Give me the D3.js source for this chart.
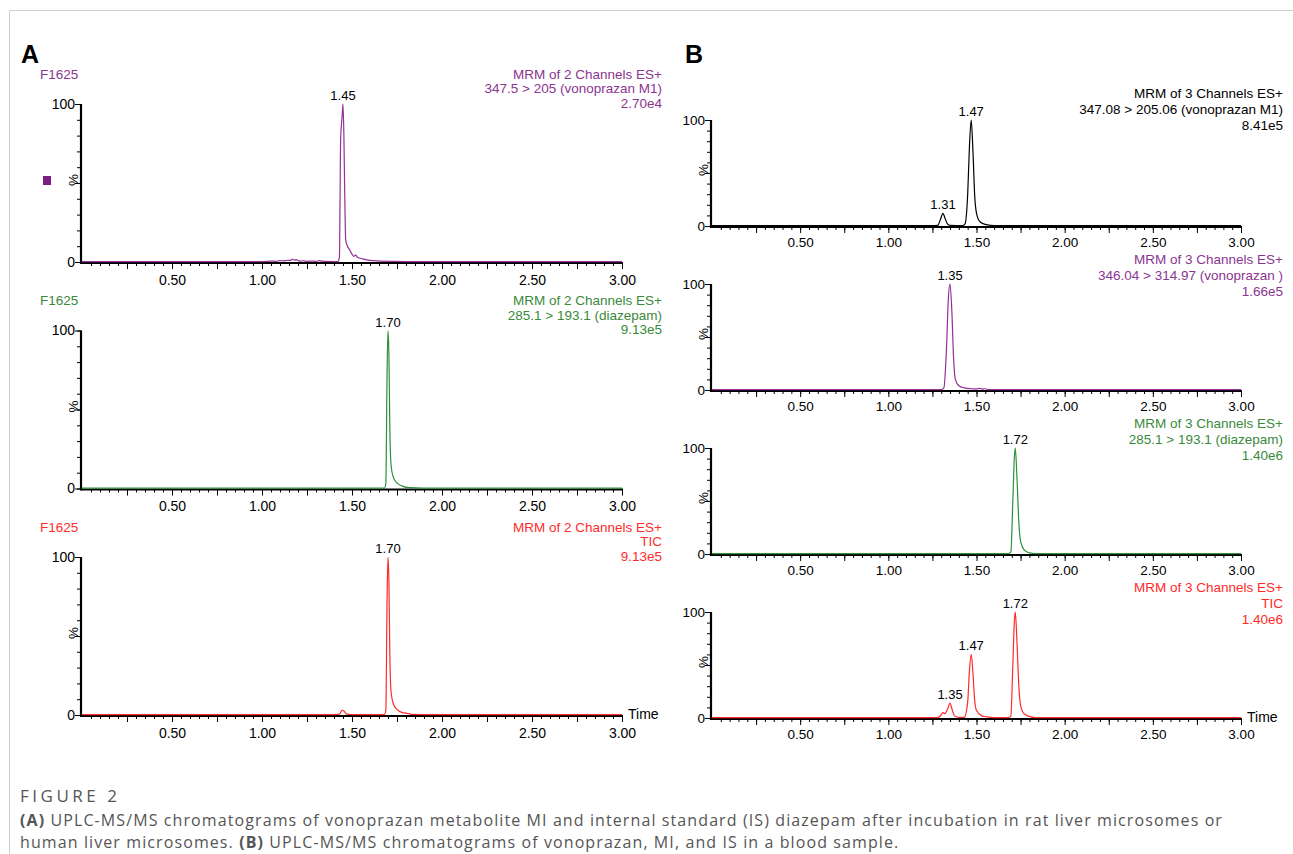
<!DOCTYPE html>
<html lang="en">
<head>
<meta charset="utf-8">
<title>Figure 2 chromatograms</title>
<script src="https://cdnjs.cloudflare.com/ajax/libs/d3/7.8.5/d3.min.js"></script>
<style>
  body { margin: 0; background: #fff; }
  svg { display: block; }
  text { font-family: "Liberation Sans", Arial, sans-serif; }
  .cap { font-family: "Open Sans", "Noto Sans", sans-serif; fill: #555; }
</style>
</head>
<body>
<script>
// retention times (min) and relative intensity (%) for each trace
var timesA1  = [0, 0.5, 1.0, 1.05, 1.08, 1.10, 1.12, 1.14, 1.16, 1.17, 1.18, 1.19, 1.21, 1.23, 1.25, 1.28, 1.30, 1.32, 1.33, 1.35, 1.40, 1.42, 1.43, 1.437, 1.445, 1.45, 1.455, 1.46, 1.465, 1.475, 1.485, 1.50, 1.51, 1.52, 1.53, 1.56, 1.60, 1.65, 1.80, 3.0];
var valuesA1 = [0.3, 0.3, 0.3, 0.6, 0.4, 0.9, 0.7, 1.1, 1.0, 1.8, 1.2, 1.5, 0.5, 0.8, 0.4, 0.6, 0.4, 0.9, 0.5, 0.4, 0.3, 0.3, 3, 78, 92, 100, 80, 40, 14, 10, 8, 5, 3.5, 4.5, 3, 2, 1, 0.6, 0.3, 0.3];

var timesA2  = [0, 1.5, 1.68, 1.688, 1.695, 1.70, 1.705, 1.71, 1.715, 1.72, 1.73, 1.75, 1.78, 1.82, 1.9, 3.0];
var valuesA2 = [0.3, 0.3, 0.3, 3, 75, 100, 85, 40, 18, 12, 7, 3.5, 1.5, 0.5, 0.3, 0.3];

var timesA3  = [0, 1.40, 1.43, 1.445, 1.455, 1.47, 1.50, 1.68, 1.688, 1.695, 1.70, 1.705, 1.71, 1.715, 1.72, 1.73, 1.75, 1.78, 1.80, 1.83, 1.9, 3.0];
var valuesA3 = [0.3, 0.3, 0.5, 3, 2.5, 0.5, 0.3, 0.3, 3, 75, 100, 85, 40, 18, 12, 7, 3.5, 1.5, 1.2, 0.4, 0.3, 0.3];

var timesB1  = [0, 1.25, 1.28, 1.295, 1.31, 1.32, 1.335, 1.35, 1.42, 1.435, 1.45, 1.46, 1.47, 1.48, 1.49, 1.50, 1.52, 1.55, 1.58, 1.62, 3.0];
var valuesB1 = [0.3, 0.3, 0.5, 6, 12, 8, 2, 0.5, 0.3, 2, 30, 75, 100, 70, 28, 12, 4, 1.5, 0.6, 0.3, 0.3];

var timesB2  = [0, 1.30, 1.315, 1.33, 1.34, 1.35, 1.36, 1.37, 1.38, 1.40, 1.43, 1.47, 1.50, 1.52, 1.53, 1.55, 1.57, 3.0];
var valuesB2 = [0.3, 0.3, 2, 40, 85, 100, 75, 30, 10, 4, 2, 1.2, 1, 1.5, 0.8, 1.2, 0.3, 0.3];

var timesB3  = [0, 1.68, 1.695, 1.705, 1.715, 1.72, 1.73, 1.74, 1.75, 1.77, 1.80, 1.83, 3.0];
var valuesB3 = [0.3, 0.3, 2, 45, 92, 100, 70, 30, 12, 4, 1, 0.3, 0.3];

var timesB4  = [0, 1.28, 1.30, 1.31, 1.32, 1.335, 1.35, 1.36, 1.375, 1.40, 1.43, 1.45, 1.46, 1.47, 1.48, 1.49, 1.50, 1.53, 1.56, 1.60, 1.68, 1.695, 1.705, 1.715, 1.72, 1.73, 1.74, 1.75, 1.77, 1.80, 1.83, 3.0];
var valuesB4 = [0.3, 0.3, 3, 5, 4, 8, 14, 9, 2, 0.5, 0.5, 15, 45, 60, 42, 16, 7, 2, 1, 0.4, 0.3, 2, 45, 92, 100, 70, 30, 12, 4, 1.5, 0.4, 0.3];

// peak labels
var peaksA1 = [1.45], peaksA2 = [1.70], peaksA3 = [1.70];
var peaksB1 = [1.31, 1.47], peaksB2 = [1.35], peaksB3 = [1.72], peaksB4 = [1.35, 1.47, 1.72];

// header text
var headerA1 = ["MRM of 2 Channels ES+", "347.5 > 205 (vonoprazan M1)", "2.70e4"];
var headerA2 = ["MRM of 2 Channels ES+", "285.1 > 193.1 (diazepam)", "9.13e5"];
var headerA3 = ["MRM of 2 Channels ES+", "TIC", "9.13e5"];
var headerB1 = ["MRM of 3 Channels ES+", "347.08 > 205.06 (vonoprazan M1)", "8.41e5"];
var headerB2 = ["MRM of 3 Channels ES+", "346.04 > 314.97 (vonoprazan )", "1.66e5"];
var headerB3 = ["MRM of 3 Channels ES+", "285.1 > 193.1 (diazepam)", "1.40e6"];
var headerB4 = ["MRM of 3 Channels ES+", "TIC", "1.40e6"];

var sampleName = "F1625";
var xTickLabels = [0.5, 1.0, 1.5, 2.0, 2.5, 3.0];

var purple = "#93309a", purpleText = "#8b3590";
var green = "#2f8f3a", greenText = "#3a8a3a";
var red = "#ff2a2a";

var w = 1293, h = 854;
var svg = d3.select("body").append("svg").attr("width", w).attr("height", h);

// light frame
svg.append("path").attr("d", "M9.5," + h + "V10.5H" + w)
   .attr("fill", "none").attr("stroke", "#cfcfcf").attr("stroke-width", 1);

function pts(t, v) { return t.map(function(d, i) { return [d, v[i]]; }); }

var panels = [
  {x0: 82, x1: 622, top: 104, zero: 262, data: pts(timesA1, valuesA1), color: purple, text: purpleText, head: headerA1, peaks: peaksA1, name: true, hdStep: 14.5, hdOff: -30, right: 662, marker: true},
  {x0: 82, x1: 622, top: 330.5, zero: 488.5, data: pts(timesA2, valuesA2), color: green, text: greenText, head: headerA2, peaks: peaksA2, name: true, hdStep: 14.5, hdOff: -30, right: 662},
  {x0: 82, x1: 622, top: 557, zero: 715, data: pts(timesA3, valuesA3), color: red, text: red, head: headerA3, peaks: peaksA3, name: true, hdStep: 14.5, hdOff: -30, right: 662, time: true},
  {x0: 712, x1: 1241, top: 120, zero: 226, data: pts(timesB1, valuesB1), color: "#000", text: "#000", head: headerB1, peaks: peaksB1, hdStep: 16, hdOff: -27, right: 1283},
  {x0: 712, x1: 1241, top: 284, zero: 390, data: pts(timesB2, valuesB2), color: purple, text: purpleText, head: headerB2, peaks: peaksB2, hdStep: 16, hdOff: -25, right: 1283},
  {x0: 712, x1: 1241, top: 448, zero: 554, data: pts(timesB3, valuesB3), color: green, text: greenText, head: headerB3, peaks: peaksB3, hdStep: 16, hdOff: -25, right: 1283},
  {x0: 712, x1: 1241, top: 612, zero: 718, data: pts(timesB4, valuesB4), color: red, text: red, head: headerB4, peaks: peaksB4, hdStep: 16, hdOff: -25, right: 1283, time: true}
];

panels.forEach(function(p) {
  var x = d3.scaleLinear().domain([0, 3]).range([p.x0, p.x1]);
  var y = d3.scaleLinear().domain([0, 100]).range([p.zero, p.top]);
  var g = svg.append("g");
  var big = p.x0 < 300;

  // x axis: minor ticks every 0.05, major every 0.25
  var minor = d3.range(1, 61).map(function(i) { return i * 0.05; });
  var major = d3.range(1, 13).map(function(i) { return i * 0.25; });
  var ax = g.append("g").attr("transform", "translate(0," + (p.zero + 1) + ")");
  ax.call(d3.axisBottom(x).tickValues(minor).tickSize(3).tickFormat(""));
  ax.append("g").call(d3.axisBottom(x).tickValues(major).tickSize(6).tickFormat(""));
  ax.selectAll(".domain").remove();
  ax.selectAll("line").attr("stroke", "#000");
  var lab = g.append("g").attr("transform", "translate(0," + (p.zero + 1) + ")")
    .call(d3.axisBottom(x).tickValues(xTickLabels).tickSize(0).tickPadding(big ? 12 : 10).tickFormat(d3.format(".2f")));
  lab.select(".domain").remove();
  lab.selectAll("text").attr("font-size", big ? 14 : 13.5).attr("fill", "#000")
     .attr("font-family", "Liberation Sans, Arial, sans-serif");
  g.append("line").attr("x1", p.x0 - 1).attr("x2", p.x1 + 1)
   .attr("y1", p.zero + 1).attr("y2", p.zero + 1).attr("stroke", "#000").attr("stroke-width", 2.2);

  // y axis: ticks every 10 %, longer at 0, 50, 100
  var yax = g.append("g").attr("transform", "translate(" + (p.x0 - 1) + ",0)")
    .call(d3.axisLeft(y).tickValues(d3.range(0, 101, 10)).tickSize(4).tickFormat(""));
  yax.append("g").call(d3.axisLeft(y).tickValues([0, 50, 100]).tickSize(6).tickFormat(""));
  yax.selectAll(".domain").remove();
  yax.selectAll("line").attr("stroke", "#000");
  g.append("line").attr("x1", p.x0 - 1).attr("x2", p.x0 - 1)
   .attr("y1", p.top).attr("y2", p.zero + 2).attr("stroke", "#000").attr("stroke-width", 2.2);
  g.selectAll(".ylab").data([0, 100]).enter().append("text")
   .attr("x", p.x0 - 7).attr("y", function(d) { return y(d); }).attr("dy", "0.35em")
   .attr("text-anchor", "end").attr("font-size", big ? 14 : 13.5).text(function(d) { return d; });
  g.append("text").attr("transform", "translate(" + (p.x0 - 9) + "," + (y(50) - 3) + ") rotate(-90)")
   .attr("text-anchor", "middle").attr("dy", "0.35em").attr("font-size", 13.5).text("%");

  // trace
  g.append("path").datum(p.data)
   .attr("d", d3.line().x(function(d) { return x(d[0]); }).y(function(d) { return y(d[1]); }).curve(d3.curveMonotoneX))
   .attr("fill", "none").attr("stroke", p.color).attr("stroke-width", 1.2);

  // peak labels
  p.peaks.forEach(function(t) {
    var best = p.data.reduce(function(a, b) { return Math.abs(b[0] - t) < Math.abs(a[0] - t) ? b : a; });
    g.append("text").attr("x", x(t)).attr("y", y(best[1]) - 4)
     .attr("text-anchor", "middle").attr("font-size", 13).text(t.toFixed(2));
  });

  // header
  g.selectAll(".hd").data(p.head).enter().append("text")
   .attr("x", p.right).attr("y", function(d, i) { return p.top + p.hdOff + i * p.hdStep; })
   .attr("dy", "0.35em").attr("text-anchor", "end").attr("font-size", 13.5)
   .attr("fill", p.text).text(function(d) { return d; });
  if (p.name) {
    g.append("text").attr("x", 40).attr("y", p.top - 30).attr("dy", "0.35em")
     .attr("font-size", 13.5).attr("fill", p.text).text(sampleName);
  }
  if (p.marker) {
    g.append("rect").attr("x", 43).attr("y", y(50) - 7).attr("width", 8).attr("height", 9).attr("fill", "#7d1f80");
  }
  if (p.time) {
    g.append("text").attr("x", p.x1 + 6).attr("y", p.zero - 1).attr("dy", "0.35em")
     .attr("font-size", 14).text("Time");
  }
});

// panel letters
svg.append("text").attr("x", 21).attr("y", 63).attr("font-size", 25).attr("font-weight", "bold").text("A");
svg.append("text").attr("x", 685).attr("y", 63).attr("font-size", 25).attr("font-weight", "bold").text("B");

// caption
svg.append("text").attr("class", "cap").attr("x", 20).attr("y", 802)
   .attr("font-size", 17).attr("letter-spacing", 3.5).text("FIGURE 2");
var c1 = svg.append("text").attr("class", "cap").attr("x", 20).attr("y", 826)
   .attr("font-size", 16).attr("letter-spacing", 1.1);
c1.append("tspan").attr("font-weight", "bold").text("(A)");
c1.append("tspan").text(" UPLC-MS/MS chromatograms of vonoprazan metabolite MI and internal standard (IS) diazepam after incubation in rat liver microsomes or");
var c2 = svg.append("text").attr("class", "cap").attr("x", 20).attr("y", 848)
   .attr("font-size", 16).attr("letter-spacing", 1.1);
c2.append("tspan").text("human liver microsomes. ");
c2.append("tspan").attr("font-weight", "bold").text("(B)");
c2.append("tspan").text(" UPLC-MS/MS chromatograms of vonoprazan, MI, and IS in a blood sample.");
</script>
</body>
</html>
